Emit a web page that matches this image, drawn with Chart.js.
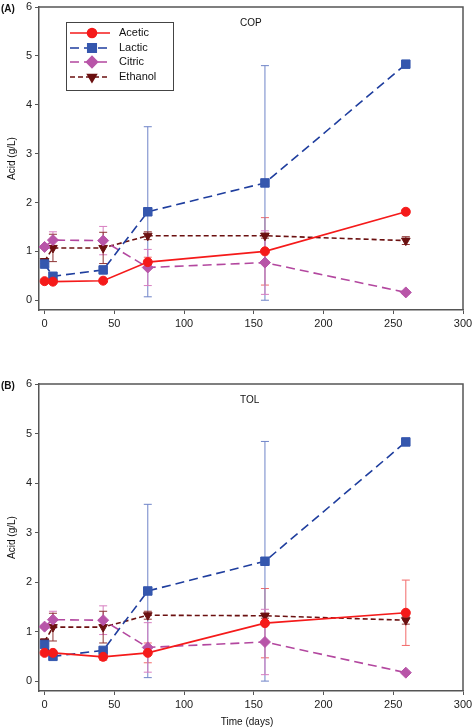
<!DOCTYPE html>
<html>
<head>
<meta charset="utf-8">
<script src="https://cdn.jsdelivr.net/npm/chart.js@4/dist/chart.umd.min.js"></script>
<style>
  body { margin: 0; background: #fff; }
  #wrap { position: relative; width: 472px; height: 728px; }
  canvas { position: absolute; left: 0; }
</style>
</head>
<body>
<div id="wrap">
  <canvas id="chartA" width="472" height="360" style="top:0"></canvas>
  <canvas id="chartB" width="472" height="368" style="top:360px"></canvas>
</div>
<script>
// tempo de amostragem (dias)
const days = [0, 6, 42, 74, 158, 259];
const xTicks = [0, 50, 100, 150, 200, 250, 300];
const yTicks = [0, 1, 2, 3, 4, 5, 6];
const seriesNames = ['Acetic', 'Lactic', 'Citric', 'Ethanol'];

// painel A - COP
const aceticCOP = [0.39, 0.38, 0.40, 0.78, 1.00, 1.81];
const aceticCOPErr = [0.03, 0.03, 0.04, 0.10, 0.69, 0.05];
const lacticCOP = [0.74, 0.49, 0.62, 1.81, 2.40, 4.83];
const lacticCOPErr = [0.05, 0.05, 0.05, 1.74, 2.40, 0.05];
const citricCOP = [1.09, 1.23, 1.22, 0.67, 0.77, 0.16];
const citricCOPErr = [0.03, 0.17, 0.29, 0.37, 0.65, 0.03];
const ethanolCOP = [0.80, 1.07, 1.07, 1.32, 1.32, 1.22];
const ethanolCOPErr = [0.05, 0.28, 0.32, 0.08, 0.05, 0.08];

// painel B - TOL
const aceticTOL = [0.57, 0.57, 0.49, 0.57, 1.17, 1.38];
const aceticTOLErr = [0.04, 0.04, 0.07, 0.20, 0.70, 0.66];
const lacticTOL = [0.74, 0.50, 0.62, 1.82, 2.42, 4.83];
const lacticTOLErr = [0.05, 0.05, 0.05, 1.75, 2.42, 0.05];
const citricTOL = [1.10, 1.24, 1.23, 0.68, 0.79, 0.17];
const citricTOLErr = [0.03, 0.17, 0.29, 0.50, 0.66, 0.03];
const ethanolTOL = [0.80, 1.09, 1.09, 1.33, 1.32, 1.23];
const ethanolTOLErr = [0.05, 0.28, 0.32, 0.08, 0.05, 0.08];

const estilos = [
  { line: '#f51a1a', fill: '#f51a1a', err: '#f26a6a', dash: [], style: 'circle', radius: 4.5, rot: 0 },
  { line: '#1f3e9e', fill: '#3557ae', err: '#6f84c8', dash: [9, 5], style: 'rect', radius: 6, rot: 0 },
  { line: '#b3479f', fill: '#b855a8', err: '#d77ec0', dash: [9, 5], style: 'rectRot', radius: 5.5, rot: 0 },
  { line: '#6b1010', fill: '#6b1010', err: '#8e3434', dash: [5, 3], style: 'triangle', radius: 5, rot: 180 }
];

const FONT = '"Liberation Sans", Arial, sans-serif';

function pontos(valores) {
  return days.map((d, i) => ({ x: d, y: valores[i] }));
}

const anotacoes = {
  id: 'anotacoes',
  beforeDatasetsDraw(chart, args, opts) {
    const ctx = chart.ctx;
    const x = chart.scales.x, y = chart.scales.y;
    ctx.save();
    chart.data.datasets.forEach((ds, i) => {
      ctx.strokeStyle = estilos[i].err;
      ctx.lineWidth = 1;
      ds.data.forEach((p, j) => {
        const e = ds.errs[j];
        const px = x.getPixelForValue(p.x);
        const top = y.getPixelForValue(p.y + e);
        const bot = y.getPixelForValue(p.y - e);
        ctx.beginPath();
        ctx.moveTo(px, top); ctx.lineTo(px, bot);
        ctx.moveTo(px - 4, top); ctx.lineTo(px + 4, top);
        ctx.moveTo(px - 4, bot); ctx.lineTo(px + 4, bot);
        ctx.stroke();
      });
    });
    ctx.restore();
  },
  afterDraw(chart, args, opts) {
    const ctx = chart.ctx;
    const a = chart.chartArea;
    ctx.save();
    // moldura superior e direita
    ctx.strokeStyle = '#555';
    ctx.lineWidth = 1.5;
    ctx.beginPath();
    ctx.moveTo(a.left, a.top); ctx.lineTo(a.right, a.top); ctx.lineTo(a.right, a.bottom);
    ctx.stroke();

    ctx.fillStyle = '#111';
    ctx.font = 'bold 10px ' + FONT;
    ctx.textAlign = 'left';
    ctx.textBaseline = 'middle';
    ctx.fillText(opts.painel, 1, a.top + 2);

    ctx.font = '10px ' + FONT;
    ctx.fillText(opts.local, 240, a.top + 16);

    // titulo eixo y
    ctx.save();
    ctx.translate(12, (a.top + a.bottom) / 2);
    ctx.rotate(-Math.PI / 2);
    ctx.textAlign = 'center';
    ctx.fillText('Acid (g/L)', 0, 0);
    ctx.restore();

    if (opts.tituloX) {
      ctx.textAlign = 'center';
      ctx.fillText('Time (days)', 247, chart.height - 6);
    }

    if (opts.legenda) {
      ctx.strokeStyle = '#444';
      ctx.lineWidth = 1;
      ctx.strokeRect(66.5, 22.5, 107, 68);
      const linhas = [33, 48, 62, 77];
      seriesNames.forEach((nome, i) => {
        const s = estilos[i];
        ctx.strokeStyle = s.line;
        ctx.lineWidth = 1.6;
        ctx.setLineDash(s.dash);
        ctx.beginPath();
        ctx.moveTo(70, linhas[i]); ctx.lineTo(110, linhas[i]);
        ctx.stroke();
        ctx.setLineDash([]);
        ctx.fillStyle = s.fill;
        ctx.strokeStyle = s.fill;
        Chart.helpers.drawPoint(ctx, { pointStyle: s.style, radius: s.radius, rotation: s.rot, borderWidth: 1 }, 92, linhas[i]);
        ctx.fillStyle = '#111';
        ctx.font = '11px ' + FONT;
        ctx.textAlign = 'left';
        ctx.fillText(nome, 119, linhas[i]);
      });
    }
    ctx.restore();
  }
};

function criarGrafico(id, series, erros, cfg) {
  const datasets = series.map((valores, i) => {
    const s = estilos[i];
    return {
      label: seriesNames[i],
      data: pontos(valores),
      errs: erros[i],
      showLine: true,
      borderColor: s.line,
      borderWidth: 1.6,
      borderDash: s.dash,
      pointStyle: s.style,
      pointRadius: s.radius,
      pointRotation: s.rot,
      pointBackgroundColor: s.fill,
      pointBorderColor: s.fill,
      pointBorderWidth: 1,
      tension: 0
    };
  });
  return new Chart(document.getElementById(id).getContext('2d'), {
    type: 'scatter',
    data: { datasets: datasets },
    plugins: [anotacoes],
    options: {
      responsive: false,
      animation: false,
      layout: { padding: { left: 0, right: 9, top: cfg.topo, bottom: 0 } },
      plugins: {
        legend: { display: false },
        tooltip: { enabled: false },
        anotacoes: { painel: cfg.painel, local: cfg.local, legenda: cfg.legenda, tituloX: cfg.tituloX }
      },
      scales: {
        x: {
          type: 'linear',
          min: -4,
          max: 300,
          afterBuildTicks: (scale) => { scale.ticks = xTicks.map(v => ({ value: v })); },
          afterFit: (scale) => {
            scale.height = cfg.altX;
            scale.paddingLeft = 0;
            scale.paddingRight = 0;
          },
          grid: { drawOnChartArea: false, drawTicks: true, tickLength: 4, color: '#555' },
          border: { display: true, color: '#555', width: 1.5 },
          ticks: { autoSkip: false, maxRotation: 0, padding: 3, color: '#222', font: { family: FONT, size: 11 } }
        },
        y: {
          type: 'linear',
          min: -0.2,
          max: 6,
          afterBuildTicks: (scale) => { scale.ticks = yTicks.map(v => ({ value: v })); },
          afterFit: (scale) => {
            scale.width = 39;
            scale.paddingTop = 0;
            scale.paddingBottom = 0;
          },
          grid: { drawOnChartArea: false, drawTicks: true, tickLength: 4, color: '#555' },
          border: { display: true, color: '#555', width: 1.5 },
          ticks: { padding: 3, color: '#222', font: { family: FONT, size: 11 } }
        }
      }
    }
  });
}

criarGrafico('chartA',
  [aceticCOP, lacticCOP, citricCOP, ethanolCOP],
  [aceticCOPErr, lacticCOPErr, citricCOPErr, ethanolCOPErr],
  { painel: '(A)', local: 'COP', legenda: true, tituloX: false, topo: 4, altX: 50 });

criarGrafico('chartB',
  [aceticTOL, lacticTOL, citricTOL, ethanolTOL],
  [aceticTOLErr, lacticTOLErr, citricTOLErr, ethanolTOLErr],
  { painel: '(B)', local: 'TOL', legenda: false, tituloX: true, topo: 24, altX: 37 });
</script>
</body>
</html>
